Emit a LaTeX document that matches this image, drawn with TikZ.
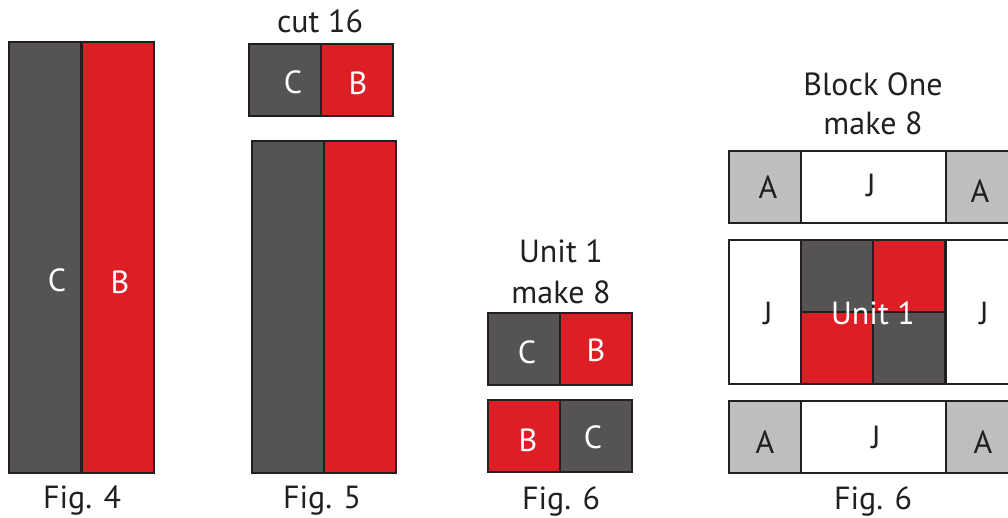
\documentclass[tikz,border=0pt]{standalone}
\usepackage{fontspec}
\setmainfont{PT Sans}
\definecolor{dk}{RGB}{85,83,84}
\definecolor{rd}{RGB}{221,30,37}
\definecolor{lg}{RGB}{190,190,192}
\definecolor{ln}{RGB}{35,31,32}
\begin{document}
\begin{tikzpicture}[x=1pt,y=-1pt,
  cell/.style={draw=ln, line width=1.3pt, inner sep=0pt, outer sep=0pt, anchor=north west},
  sq/.style={cell, minimum width=72pt, minimum height=72pt},
  tall/.style={cell, minimum width=72pt, minimum height=431pt},
  tallb/.style={cell, minimum width=72pt, minimum height=332pt},
  wide/.style={cell, minimum width=145pt, minimum height=72pt},
  jside/.style={cell, minimum width=72pt, minimum height=144pt},
  four/.style={cell, minimum width=72pt, minimum height=72pt},
  txt/.style={font=\fontsize{32}{38}\selectfont, text=ln, inner sep=0pt},
  wtxt/.style={font=\fontsize{32}{38}\selectfont, text=white, inner sep=0pt}]
\useasboundingbox (0,0) rectangle (1008,518);
\begin{scope}
\clip (0,0) rectangle (1008,518);
% Fig 4
\node[tall, fill=dk] (f4c) at (9,42) {};
\node[tall, fill=rd] (f4b) at (82,42) {};
\node[wtxt] (f4cl) at (57,280) {C};
\node[wtxt] (f4bl) at (120,282) {B};
\node[txt] (f4t) at (82,501) {Fig. 4};
% Fig 5
\node[txt] (f5h) at (320,21) {cut 16};
\node[sq, fill=dk] (f5c) at (249,44) {};
\node[sq, fill=rd] (f5b) at (321,44) {};
\node[wtxt] (f5cl) at (293,82) {C};
\node[wtxt] (f5bl) at (358,83) {B};
\node[tallb, fill=dk] (f5lc) at (252,141) {};
\node[tallb, fill=rd] (f5lb) at (324,141) {};
\node[txt] (f5t) at (322,501) {Fig. 5};
% Fig 6 units
\node[txt] (u1) at (561,251) {Unit 1};
\node[txt] (u2) at (561,292) {make 8};
\node[sq, fill=dk] (u1c) at (488,313) {};
\node[sq, fill=rd] (u1b) at (560,313) {};
\node[wtxt] (u1cl) at (527,352) {C};
\node[wtxt] (u1bl) at (596,350) {B};
\node[sq, fill=rd] (u2b) at (488,400) {};
\node[sq, fill=dk] (u2c) at (560,400) {};
\node[wtxt] (u2bl) at (528,440) {B};
\node[wtxt] (u2cl) at (593,437) {C};
\node[txt] (f6t) at (561,501) {Fig. 6};
% Block One
\node[txt] (b1) at (873,84) {Block One};
\node[txt] (b2) at (873,123) {make 8};
\node[sq, fill=lg] (ta1) at (729,151) {};
\node[wide, fill=white] (tj) at (801,151) {};
\node[sq, fill=lg] (ta2) at (946,151) {};
\node[txt] (ta1l) at (768,187) {A};
\node[txt] (tjl) at (871,185) {J};
\node[txt] (ta2l) at (980,191) {A};
\node[jside, fill=white] (mj1) at (729,240) {};
\node[four, fill=dk] (q1) at (801,240) {};
\node[four, fill=rd] (q2) at (873,240) {};
\node[four, fill=rd] (q3) at (801,312) {};
\node[four, fill=dk] (q4) at (873,312) {};
\node[jside, fill=white] (mj2) at (946,240) {};
\node[txt] (mj1l) at (768,313) {J};
\node[wtxt] (ul) at (873,313) {Unit 1};
\node[txt] (mj2l) at (984,313) {J};
\node[sq, fill=lg] (ba1) at (729,401) {};
\node[wide, fill=white] (bj) at (801,401) {};
\node[sq, fill=lg] (ba2) at (946,401) {};
\node[txt] (ba1l) at (765,442) {A};
\node[txt] (bjl) at (876,437) {J};
\node[txt] (ba2l) at (983,442) {A};
\node[txt] (f6bt) at (873,501) {Fig. 6};
\end{scope}
\end{tikzpicture}
\end{document}
